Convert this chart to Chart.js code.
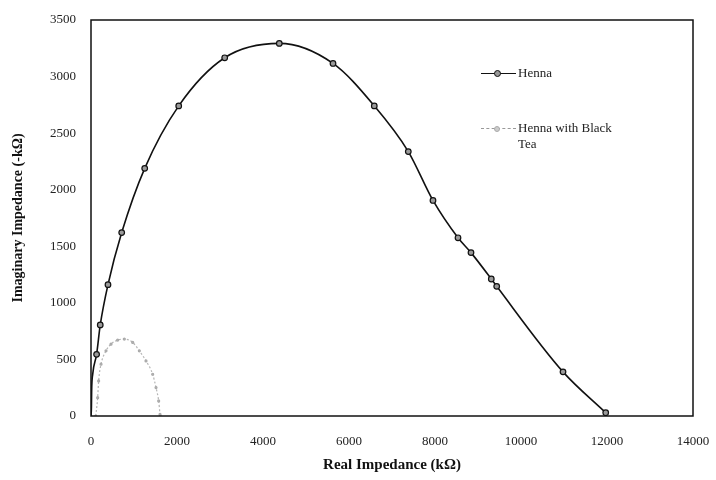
<!DOCTYPE html>
<html>
<head>
<meta charset="utf-8">
<script src="https://cdn.jsdelivr.net/npm/chart.js@4"></script>
<style>
  html,body{margin:0;padding:0;background:#fff;}
  #wrap{position:relative;width:716px;height:480px;}
  .lg{position:absolute;font-family:"Liberation Serif",serif;font-size:13px;color:#222;line-height:16px;}
  .ln{position:absolute;height:0;}
  .mk{position:absolute;border-radius:50%;}
</style>
</head>
<body>
<div id="wrap">
  <canvas id="c" width="716" height="480"></canvas>
  <div class="ln" style="left:481px;top:73px;width:35px;border-top:1.5px solid #111;"></div>
  <div class="mk" style="left:494px;top:70px;width:5px;height:5px;background:#999;border:1.2px solid #111;"></div>
  <div class="lg" style="left:518px;top:65px;">Henna</div>
  <div class="ln" style="left:481px;top:128px;width:35px;border-top:1px dashed #999;"></div>
  <div class="mk" style="left:494px;top:126px;width:4px;height:4px;background:#ccc;border:1px solid #aaa;"></div>
  <div class="lg" style="left:518px;top:120px;">Henna with Black<br>Tea</div>
</div>
<script>
const xTicks = [0, 2000, 4000, 6000, 8000, 10000, 12000, 14000];
const yTicks = [0, 500, 1000, 1500, 2000, 2500, 3000, 3500];
const hennaX = [0, 10, 15, 40, 130, 215, 395, 714, 1249, 2040, 3109, 4379, 5628, 6588, 7379, 7953, 8535, 8837, 9309, 9435, 10977, 11970];
const hennaY = [0, 80, 220, 370, 545, 805, 1161, 1621, 2189, 2741, 3166, 3293, 3116, 2741, 2337, 1905, 1575, 1444, 1211, 1146, 390, 29];
const teaX = [110, 155, 178, 233, 349, 465, 620, 775, 970, 1124, 1279, 1434, 1512, 1574, 1605, 1610];
const teaY = [0, 162, 310, 458, 576, 635, 671, 680, 650, 576, 487, 369, 251, 133, 15, 0];
const xTitle = 'Real Impedance (kΩ)';
const yTitle = 'Imaginary Impedance (-kΩ)';

const henna = hennaX.map((x, i) => ({x, y: hennaY[i]}));
const tea = teaX.map((x, i) => ({x, y: teaY[i]}));

const frame = {
  id: 'frame',
  afterDatasetsDraw(chart) {
    const a = chart.chartArea, ctx = chart.ctx;
    ctx.save();
    ctx.strokeStyle = '#111';
    ctx.lineWidth = 1.5;
    ctx.strokeRect(a.left, a.top, a.right - a.left, a.bottom - a.top);
    ctx.restore();
  }
};

const serif = '"Liberation Serif", "Times New Roman", serif';
new Chart(document.getElementById('c'), {
  type: 'scatter',
  data: {
    datasets: [
      {
        label: 'Henna with Black Tea',
        data: tea,
        showLine: true,
        borderColor: '#b5b5b5',
        borderWidth: 1.2,
        borderDash: [2, 2],
        pointRadius: 1,
        pointBackgroundColor: '#bbb',
        pointBorderColor: '#aaa',
        cubicInterpolationMode: 'monotone'
      },
      {
        label: 'Henna',
        data: henna,
        showLine: true,
        borderColor: '#111',
        borderWidth: 1.6,
        pointRadius: (ctx) => ctx.dataIndex < 4 ? 0 : 2.8,
        pointBackgroundColor: '#9a9a9a',
        pointBorderColor: '#111',
        pointBorderWidth: 1.2,
        cubicInterpolationMode: 'monotone'
      }
    ]
  },
  options: {
    responsive: false,
    animation: false,
    layout: {padding: {left: 0, right: 23, top: 20, bottom: 0}},
    plugins: {legend: {display: false}, tooltip: {enabled: false}},
    scales: {
      x: {
        type: 'linear',
        min: xTicks[0], max: xTicks[xTicks.length - 1],
        afterBuildTicks: (s) => { s.ticks = xTicks.map(v => ({value: v})); },
        afterFit: (s) => { s.height = 64; s.paddingLeft = 0; s.paddingRight = 0; },
        grid: {display: false, drawTicks: false},
        border: {display: false},
        ticks: {padding: 18, color: '#222', font: {family: serif, size: 13}, callback: (v) => String(v)},
        title: {display: true, text: xTitle, color: '#111', padding: {top: 0, bottom: 6},
          font: {family: serif, size: 15, weight: 'bold'}}
      },
      y: {
        type: 'linear',
        min: yTicks[0], max: yTicks[yTicks.length - 1],
        afterBuildTicks: (s) => { s.ticks = yTicks.map(v => ({value: v})); },
        afterFit: (s) => { s.width = 91; s.paddingTop = 0; s.paddingBottom = 0; },
        grid: {display: false, drawTicks: false},
        border: {display: false},
        ticks: {padding: 15, color: '#222', font: {family: serif, size: 13}, callback: (v) => String(v)},
        title: {display: true, text: yTitle, color: '#111', padding: {top: 10, bottom: 0},
          font: {family: serif, size: 14, weight: 'bold'}}
      }
    }
  },
  plugins: [frame]
});
</script>
</body>
</html>
